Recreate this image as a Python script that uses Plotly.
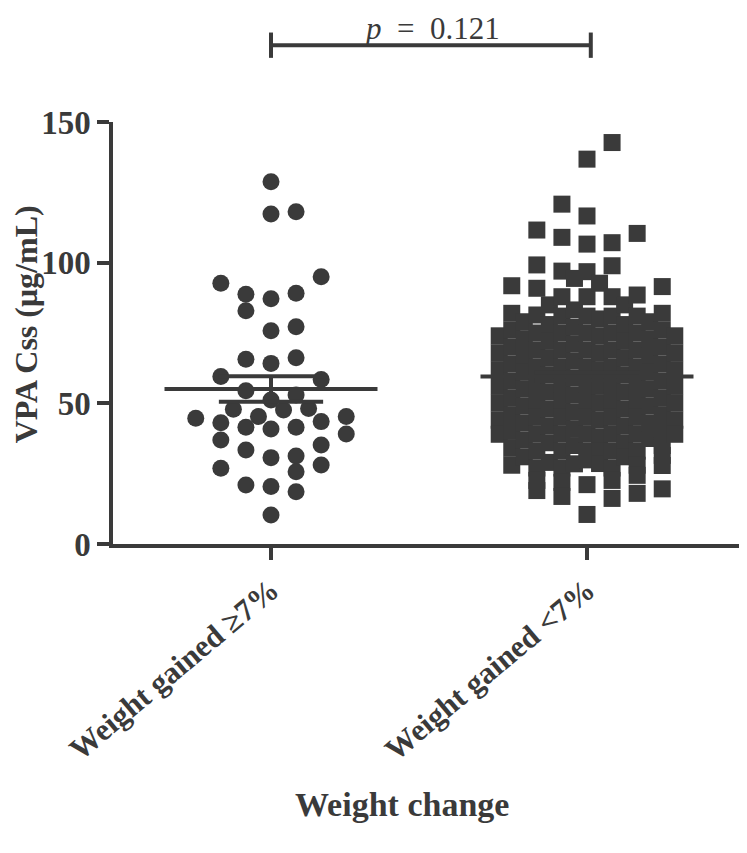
import plotly.graph_objects as go

# ---------------- data ----------------
categories = ["Weight gained \u22657%", "Weight gained <7%"]

# Group 1 (circles): values per horizontal column offset (offset in column-steps)
g1_offsets = [-3, -2, -1.5, -1, -0.5, 0, 0.5, 1, 1.5, 2, 3]
g1_values = [
    [44.7],
    [92.7, 59.5, 43.1, 37.0, 26.9],
    [47.9],
    [88.8, 82.9, 65.7, 54.5, 41.5, 33.4, 21.0],
    [45.3],
    [128.8, 117.3, 87.2, 75.8, 64.2, 51.2, 40.9, 30.7, 20.4, 10.3],
    [47.6],
    [118.1, 89.1, 77.2, 66.2, 53.0, 41.5, 31.3, 25.7, 18.6],
    [48.2],
    [95.0, 58.5, 43.5, 35.2, 28.1],
    [45.3, 39.1],
]

# Group 2 (squares)
g2_offsets = [-3.5, -3, -2.5, -2, -1.5, -1, -0.5, 0, 0.5, 1, 1.5, 2, 2.5, 3, 3.5]
g2_values = [
    [74, 68, 62, 56, 50, 44, 39],
    [91.8, 82.0, 76, 70, 64, 58, 52, 46, 40, 34, 28],
    [79, 73, 67, 61, 55, 49, 43, 37, 31],
    [111.6, 99.2, 90.9, 81.4, 75, 69, 63, 57, 51, 45, 39, 33, 27, 22.6, 19.0],
    [85, 78, 72, 66, 60, 54, 48, 42, 36, 29],
    [120.8, 109.0, 97.0, 87.9, 81, 75, 69, 63, 57, 51, 45, 39, 33, 27, 21.9, 16.9],
    [94.4, 83.2, 77, 71, 65, 59, 53, 47, 41, 35, 28.5],
    [136.8, 116.6, 106.6, 96.8, 87.9, 81, 75, 69, 63, 57, 51, 45, 39, 33, 29.9, 21.1, 10.5],
    [92.7, 80, 74, 68, 62, 56, 50, 44, 38, 33, 28.6],
    [142.7, 107.1, 98.9, 87.9, 81, 75, 69, 63, 57, 51, 45, 39, 33, 27, 22.6, 16.2],
    [85, 78, 72, 66, 60, 54, 48, 42, 36, 31],
    [110.4, 88.5, 81, 75, 69, 63, 57, 51, 45, 39, 33, 28, 24.4, 18.0],
    [79, 73, 67, 61, 55, 49, 43, 37.5],
    [91.5, 82.0, 76, 70, 64, 58, 52, 46, 40, 35, 31.5, 27.9, 19.6],
    [74, 68, 62, 56, 50, 44, 39],
]

group_means = [55.1, 59.5]
group_sems = [4.5, 1.4]
p_text = "<i>p</i>\u00a0 = \u00a00.121"
y_ticks = [0, 50, 100, 150]

# ---------------- styling ----------------
INK = "#3a3a3a"
FONT = "Liberation Serif, Times New Roman, serif"
STEP = 25 / 315.0          # one column step in x-data units
MEAN_HALF = 0.337
CAP_HALF = 0.165


def expand(offsets, values, center):
    xs, ys = [], []
    for off, col in zip(offsets, values):
        for v in col:
            xs.append(center + off * STEP)
            ys.append(v)
    return xs, ys


fig = go.Figure()

x1, y1 = expand(g1_offsets, g1_values, 0)
x2, y2 = expand(g2_offsets, g2_values, 1)

fig.add_trace(go.Scatter(x=x1, y=y1, mode="markers",
                         marker=dict(symbol="circle", size=17, color=INK, line=dict(width=0)),
                         cliponaxis=False, hoverinfo="skip"))
fig.add_trace(go.Scatter(x=x2, y=y2, mode="markers",
                         marker=dict(symbol="square", size=17, color=INK, line=dict(width=0)),
                         cliponaxis=False, hoverinfo="skip"))

# mean and SEM lines
for i, (m, s) in enumerate(zip(group_means, group_sems)):
    fig.add_trace(go.Scatter(x=[i - MEAN_HALF, i + MEAN_HALF], y=[m, m], mode="lines",
                             line=dict(color=INK, width=4), hoverinfo="skip"))
    fig.add_trace(go.Scatter(x=[i, i], y=[m - s, m + s], mode="lines",
                             line=dict(color=INK, width=4), hoverinfo="skip"))
    for yy in (m - s, m + s):
        fig.add_trace(go.Scatter(x=[i - CAP_HALF, i + CAP_HALF], y=[yy, yy], mode="lines",
                                 line=dict(color=INK, width=4), hoverinfo="skip"))

# significance bracket
fig.add_shape(type="line", xref="x", yref="paper", x0=0, x1=1.012, y0=1.182, y1=1.182,
              line=dict(color=INK, width=4))
for xx in (0, 1.012):
    fig.add_shape(type="line", xref="x", yref="paper", x0=xx, x1=xx, y0=1.152, y1=1.212,
                  line=dict(color=INK, width=4))

fig.add_annotation(text=p_text, xref="paper", yref="paper", x=0.505, y=1.2227,
                   showarrow=False, font=dict(family=FONT, size=31, color=INK),
                   xanchor="center", yanchor="middle", borderpad=0)

fig.add_annotation(text="<b>VPA Css (\u03bcg/mL)</b>", xref="paper", yref="paper",
                   x=-0.138, y=0.52, textangle=-90, showarrow=False,
                   font=dict(family=FONT, size=32, color=INK),
                   xanchor="center", yanchor="middle")

fig.add_annotation(text="<b>Weight change</b>", xref="paper", yref="paper",
                   x=0.457, y=-0.618, showarrow=False,
                   font=dict(family=FONT, size=34, color=INK),
                   xanchor="center", yanchor="middle")

fig.update_layout(
    width=739, height=845,
    margin=dict(l=105, r=2, t=114, b=309, autoexpand=False),
    plot_bgcolor="white", paper_bgcolor="white",
    showlegend=False,
    xaxis=dict(range=[-0.5, 1.5], tickvals=[0, 1],
               ticktext=categories,
               tickangle=-40, ticks="outside", ticklen=12, tickwidth=3.5, tickcolor=INK,
               showline=True, linewidth=3.5, linecolor=INK, showgrid=False, zeroline=False,
               automargin=False,
               tickfont=dict(family=FONT, size=31, color=INK, weight="bold")),
    yaxis=dict(range=[0, 150], tickvals=y_ticks, ticks="outside", ticklen=12, tickwidth=3.5,
               tickcolor=INK, showline=True, linewidth=3.5, linecolor=INK,
               showgrid=False, zeroline=False, automargin=False,
               tickfont=dict(family=FONT, size=33, color=INK, weight="bold")),
)

fig.write_html("out.html")
